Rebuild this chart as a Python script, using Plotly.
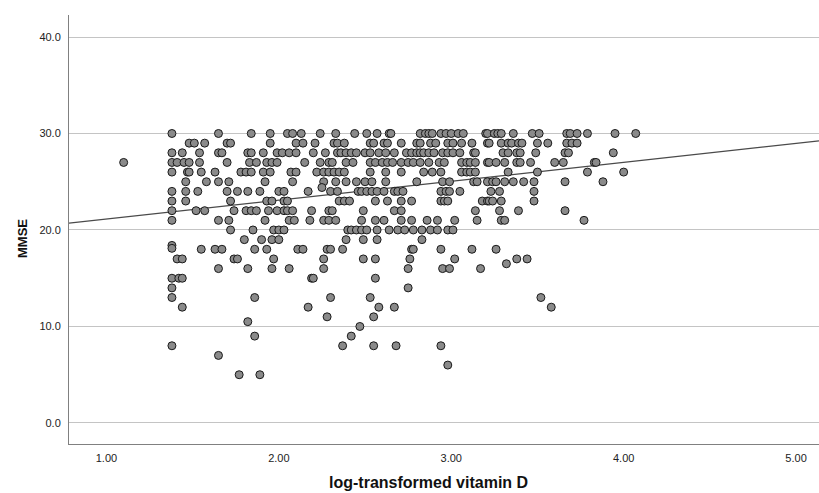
import plotly.graph_objects as go

# MMSE rows (score -> list of log-transformed vitamin D values)
rows = {
    30: [1.38, 1.65, 1.84, 1.95, 2.05, 2.08, 2.13, 2.24, 2.33, 2.44, 2.51, 2.57, 2.64, 2.65, 2.82, 2.85, 2.87, 2.89,
         2.94, 2.97, 3.00, 3.04, 3.07, 3.20, 3.21, 3.25, 3.27, 3.29, 3.36, 3.47, 3.51, 3.67, 3.69, 3.73, 3.79, 3.95, 4.07],
    29: [1.48, 1.51, 1.57, 1.70, 1.72, 1.95, 2.10, 2.14, 2.21, 2.32, 2.34, 2.38, 2.53, 2.55, 2.61, 2.63, 2.71, 2.80,
         2.82, 2.88, 2.91, 2.98, 3.01, 3.06, 3.12, 3.21, 3.22, 3.29, 3.33, 3.35, 3.39, 3.41, 3.50, 3.56, 3.67, 3.70, 3.73],
    28: [1.38, 1.44, 1.54, 1.65, 1.67, 1.82, 1.84, 1.91, 1.99, 2.02, 2.06, 2.10, 2.20, 2.27, 2.34, 2.36, 2.39, 2.42,
         2.45, 2.50, 2.53, 2.58, 2.62, 2.67, 2.74, 2.77, 2.80, 2.82, 2.84, 2.87, 2.90, 2.95, 2.98, 3.01, 3.05, 3.13,
         3.14, 3.30, 3.33, 3.38, 3.40, 3.49, 3.66, 3.68, 3.94],
    27: [1.10, 1.38, 1.41, 1.45, 1.48, 1.54, 1.70, 1.83, 1.87, 1.93, 1.96, 1.99, 2.15, 2.24, 2.29, 2.31, 2.39, 2.43,
         2.53, 2.56, 2.60, 2.63, 2.66, 2.71, 2.75, 2.78, 2.82, 2.87, 2.93, 2.96, 3.06, 3.09, 3.11, 3.14, 3.21, 3.22,
         3.26, 3.31, 3.38, 3.40, 3.46, 3.60, 3.65, 3.83, 3.84],
    26: [1.38, 1.47, 1.48, 1.55, 1.63, 1.78, 1.81, 1.84, 1.91, 1.95, 2.07, 2.10, 2.22, 2.26, 2.29, 2.32, 2.35, 2.38,
         2.53, 2.62, 2.71, 2.84, 2.89, 2.94, 3.06, 3.09, 3.11, 3.14, 3.33, 3.50, 3.79, 4.00],
    25: [1.46, 1.58, 1.65, 1.71, 1.92, 2.08, 2.26, 2.33, 2.39, 2.45, 2.50, 2.54, 2.62, 2.80, 2.95, 2.99, 3.13, 3.15,
         3.21, 3.24, 3.26, 3.31, 3.36, 3.42, 3.48, 3.66, 3.88],
    24.4: [2.25],
    24: [1.38, 1.46, 1.53, 1.70, 1.76, 1.82, 1.89, 2.00, 2.03, 2.17, 2.30, 2.34, 2.46, 2.48, 2.51, 2.54, 2.57, 2.61,
         2.67, 2.69, 2.72, 2.94, 2.97, 2.99, 3.05, 3.23, 3.28, 3.48],
    23: [1.38, 1.46, 1.72, 1.93, 1.96, 2.03, 2.05, 2.35, 2.38, 2.41, 2.56, 2.63, 2.71, 2.77, 2.94, 2.96, 2.98, 3.18,
         3.21, 3.22, 3.24, 3.29, 3.48],
    22: [1.38, 1.52, 1.57, 1.74, 1.81, 1.84, 1.87, 1.94, 1.99, 2.03, 2.05, 2.08, 2.19, 2.29, 2.31, 2.49, 2.67, 2.71,
         3.14, 3.28, 3.39, 3.66],
    21: [1.38, 1.65, 1.71, 1.92, 2.06, 2.09, 2.18, 2.26, 2.29, 2.33, 2.48, 2.56, 2.61, 2.71, 2.77, 2.86, 2.92, 3.02,
         3.15, 3.29, 3.31, 3.77],
    20: [1.72, 1.85, 1.97, 2.00, 2.03, 2.40, 2.42, 2.45, 2.48, 2.51, 2.57, 2.64, 2.69, 2.73, 2.78, 2.83, 2.88, 2.92,
         2.98, 3.01],
    19: [1.80, 1.90, 1.96, 2.00, 2.39, 2.49, 2.57, 2.83],
    18.4: [1.38],
    18.1: [1.38],
    18: [1.55, 1.63, 1.67, 1.86, 1.93, 2.11, 2.14, 2.28, 2.30, 2.37, 2.77, 2.78, 2.94, 3.12, 3.26],
    17: [1.41, 1.44, 1.74, 1.76, 1.97, 2.26, 2.49, 2.56, 2.76, 3.02, 3.38, 3.44],
    16.5: [3.32],
    16: [1.65, 1.82, 1.96, 2.06, 2.26, 2.75, 2.95, 2.99, 3.17],
    15: [1.38, 1.42, 1.44, 2.19, 2.20, 2.56],
    14: [1.38, 2.75],
    13: [1.38, 1.86, 2.30, 2.53, 3.52],
    12: [1.44, 2.17, 2.58, 2.67, 3.58],
    11: [2.28, 2.55],
    10.5: [1.82],
    10: [2.47],
    9: [1.86, 2.42],
    8: [1.38, 2.37, 2.55, 2.68, 2.94],
    7: [1.65],
    6: [2.98],
    5: [1.77, 1.89],
}

vitd = []
mmse = []
for score, xs in rows.items():
    for v in xs:
        vitd.append(v)
        mmse.append(score)

# linear fit
fit_intercept = 19.17
fit_slope = 1.96

x_range = [0.783, 5.133]
y_range = [-2.18, 42.28]
x_ticks = [1, 2, 3, 4, 5]
x_ticktext = ["1.00", "2.00", "3.00", "4.00", "5.00"]
y_ticks = [0, 10, 20, 30, 40]
y_ticktext = ["0.0", "10.0", "20.0", "30.0", "40.0"]

fit_x = x_range
fit_y = [fit_intercept + fit_slope * v for v in fit_x]

font_family = "Liberation Sans, Arial, sans-serif"

fig = go.Figure()
fig.add_trace(go.Scatter(
    x=fit_x, y=fit_y, mode="lines",
    line=dict(color="#4a4a4a", width=1.2),
    hoverinfo="skip", showlegend=False,
))
fig.add_trace(go.Scatter(
    x=vitd, y=mmse, mode="markers",
    marker=dict(size=8, color="#8a8a8a", line=dict(color="#1a1a1a", width=1)),
    showlegend=False,
))

fig.update_layout(
    width=819, height=493,
    margin=dict(l=69, r=0, t=15, b=49),
    paper_bgcolor="white", plot_bgcolor="white",
    font=dict(family=font_family, size=11, color="#222222"),
    xaxis=dict(
        range=x_range, tickvals=x_ticks, ticktext=x_ticktext,
        showgrid=False, zeroline=False, showline=True,
        linecolor="#808080", linewidth=1, ticks="", ticklabelstandoff=4,
    ),
    yaxis=dict(
        range=y_range, tickvals=y_ticks, ticktext=y_ticktext,
        showgrid=True, gridcolor="#c4c4c4", gridwidth=1,
        zeroline=False, showline=True,
        linecolor="#808080", linewidth=1, ticks="", ticklabelstandoff=5,
    ),
    annotations=[
        dict(text="<b>log-transformed vitamin D</b>", xref="paper", yref="paper",
             x=(428 - 69) / 750, y=-(483 - 444) / 429, xanchor="center", yanchor="middle",
             showarrow=False, font=dict(size=16, color="#111111", family=font_family)),
        dict(text="<b>MMSE</b>", xref="paper", yref="paper",
             x=-(69 - 22) / 750, y=(444 - 239) / 429, xanchor="center", yanchor="middle",
             textangle=-90, showarrow=False,
             font=dict(size=13, color="#111111", family=font_family)),
    ],
)

fig.write_html("out.html",
               config={"displayModeBar": False},
               post_script="document.body.style.margin='0px';document.body.style.overflow='hidden';")
